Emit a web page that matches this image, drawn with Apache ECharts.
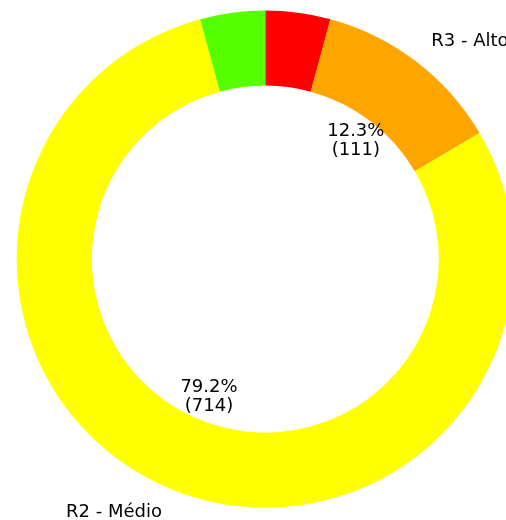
<!DOCTYPE html>
<html><head><meta charset="utf-8">
<script src="https://cdn.jsdelivr.net/npm/echarts@6/dist/echarts.min.js"></script>
<style>html,body{margin:0;padding:0;background:#fff}#chart{width:506px;height:520px}</style>
</head><body><div id="chart"></div>
<script>
const categories = ['R4 - Muito Alto', 'R3 - Alto', 'R2 - Médio', 'R1 - Baixo'];
const values = [38, 111, 714, 38];
const colors = ['#ff0000', '#ffa500', '#ffff00', '#55ff00'];
const total = values.reduce((a, b) => a + b, 0);
const minPctLabel = 5;

const chart = echarts.init(document.getElementById('chart'), null, {renderer: 'canvas'});
const font = 'DejaVu Sans';
const center = [265.3, 259.1];

const ringData = categories.map((n, i) => ({name: n, value: values[i], itemStyle: {color: colors[i]}}));
const pctData = categories.map((n, i) => ({name: n, value: values[i], itemStyle: {color: 'rgba(0,0,0,0)'}}));

chart.setOption({
  animation: false,
  backgroundColor: '#ffffff',
  series: [
    {
      type: 'pie',
      center: center,
      radius: [173.5, 248.6],
      startAngle: 90,
      clockwise: true,
      avoidLabelOverlap: false,
      silent: true,
      emphasis: {disabled: true},
      itemStyle: {borderWidth: 0},
      label: {
        show: true, position: 'outside', formatter: '{b}',
        fontFamily: font, fontSize: 18, color: '#000',
        width: 200, overflow: 'none', distanceToLabelLine: 0
      },
      labelLine: {show: false, length: 25, length2: 0},
      data: ringData
    },
    {
      type: 'pie',
      center: center,
      radius: [0, 292.4],
      startAngle: 90,
      clockwise: true,
      avoidLabelOverlap: false,
      silent: true,
      emphasis: {disabled: true},
      itemStyle: {borderWidth: 0},
      label: {
        show: true, position: 'inside',
        formatter: function (p) {
          const pct = p.value / total * 100;
          if (pct < minPctLabel) return '';
          return pct.toFixed(1) + '%\n(' + p.value + ')';
        },
        fontFamily: font, fontSize: 18, color: '#000', lineHeight: 19, align: 'center'
      },
      labelLine: {show: false},
      data: pctData
    }
  ]
});
</script>
</body></html>
